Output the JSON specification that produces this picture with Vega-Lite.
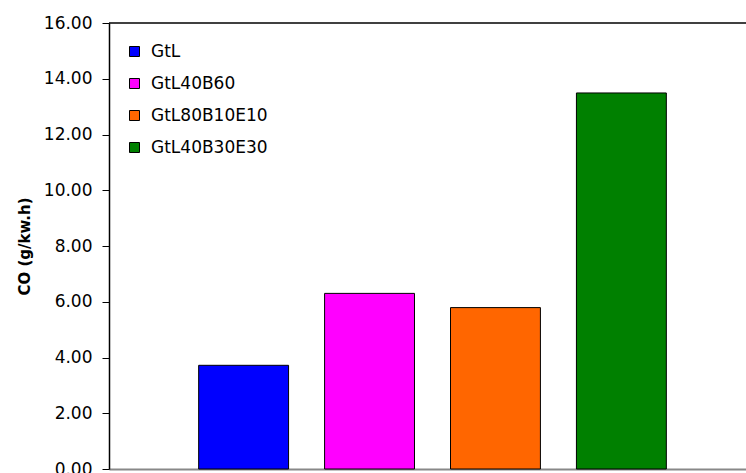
{
  "$schema": "https://vega.github.io/schema/vega-lite/v6.json",
  "autosize": "none",
  "width": 637,
  "height": 446,
  "padding": {"left": 109, "top": 23, "right": 0, "bottom": 4},
  "background": "white",
  "config": {
    "view": {"stroke": null},
    "font": "DejaVu Sans"
  },
  "data": {
    "values": [
      {"fuel": "GtL", "co": 3.72},
      {"fuel": "GtL40B60", "co": 6.30},
      {"fuel": "GtL80B10E10", "co": 5.79},
      {"fuel": "GtL40B30E30", "co": 13.49}
    ]
  },
  "layer": [
    {
      "mark": {"type": "bar", "stroke": "black", "strokeWidth": 1},
      "encoding": {
        "x": {
          "field": "fuel",
          "type": "nominal",
          "sort": null,
          "scale": {"range": [0, 647], "paddingInner": 0.286, "paddingOuter": 0.712},
          "axis": {"labels": false, "ticks": false, "title": null, "domainColor": "#888888", "domainWidth": 2}
        },
        "y": {
          "field": "co",
          "type": "quantitative",
          "scale": {"domain": [0, 16], "nice": false, "zero": true},
          "axis": {
            "values": [0, 2, 4, 6, 8, 10, 12, 14, 16],
            "format": ".2f",
            "grid": false,
            "title": "CO (g/kw.h)",
            "titleFont": "DejaVu Sans",
            "titleFontSize": 15,
            "titleFontWeight": "bold",
            "titleColor": "black",
            "titleX": -77,
            "labelFontSize": 17,
            "labelColor": "black",
            "labelPadding": 10,
            "tickSize": 7,
            "tickColor": "black",
            "domainColor": "black",
            "domainWidth": 1.5
          }
        },
        "color": {
          "field": "fuel",
          "type": "nominal",
          "sort": null,
          "scale": {
            "domain": ["GtL", "GtL40B60", "GtL80B10E10", "GtL40B30E30"],
            "range": ["#0000FF", "#FF00FF", "#FF6600", "#008000"]
          },
          "legend": {
            "title": null,
            "orient": "none",
            "legendX": 17,
            "legendY": 20,
            "symbolType": "square",
            "symbolSize": 100,
            "symbolStrokeColor": "black",
            "symbolStrokeWidth": 1,
            "labelFontSize": 17,
            "labelColor": "black",
            "labelOffset": 8,
            "rowPadding": 14
          }
        }
      }
    },
    {
      "data": {"values": [{"top": 16}]},
      "mark": {"type": "rule", "color": "black", "strokeWidth": 1.5},
      "encoding": {"y": {"field": "top", "type": "quantitative"}}
    }
  ]
}
